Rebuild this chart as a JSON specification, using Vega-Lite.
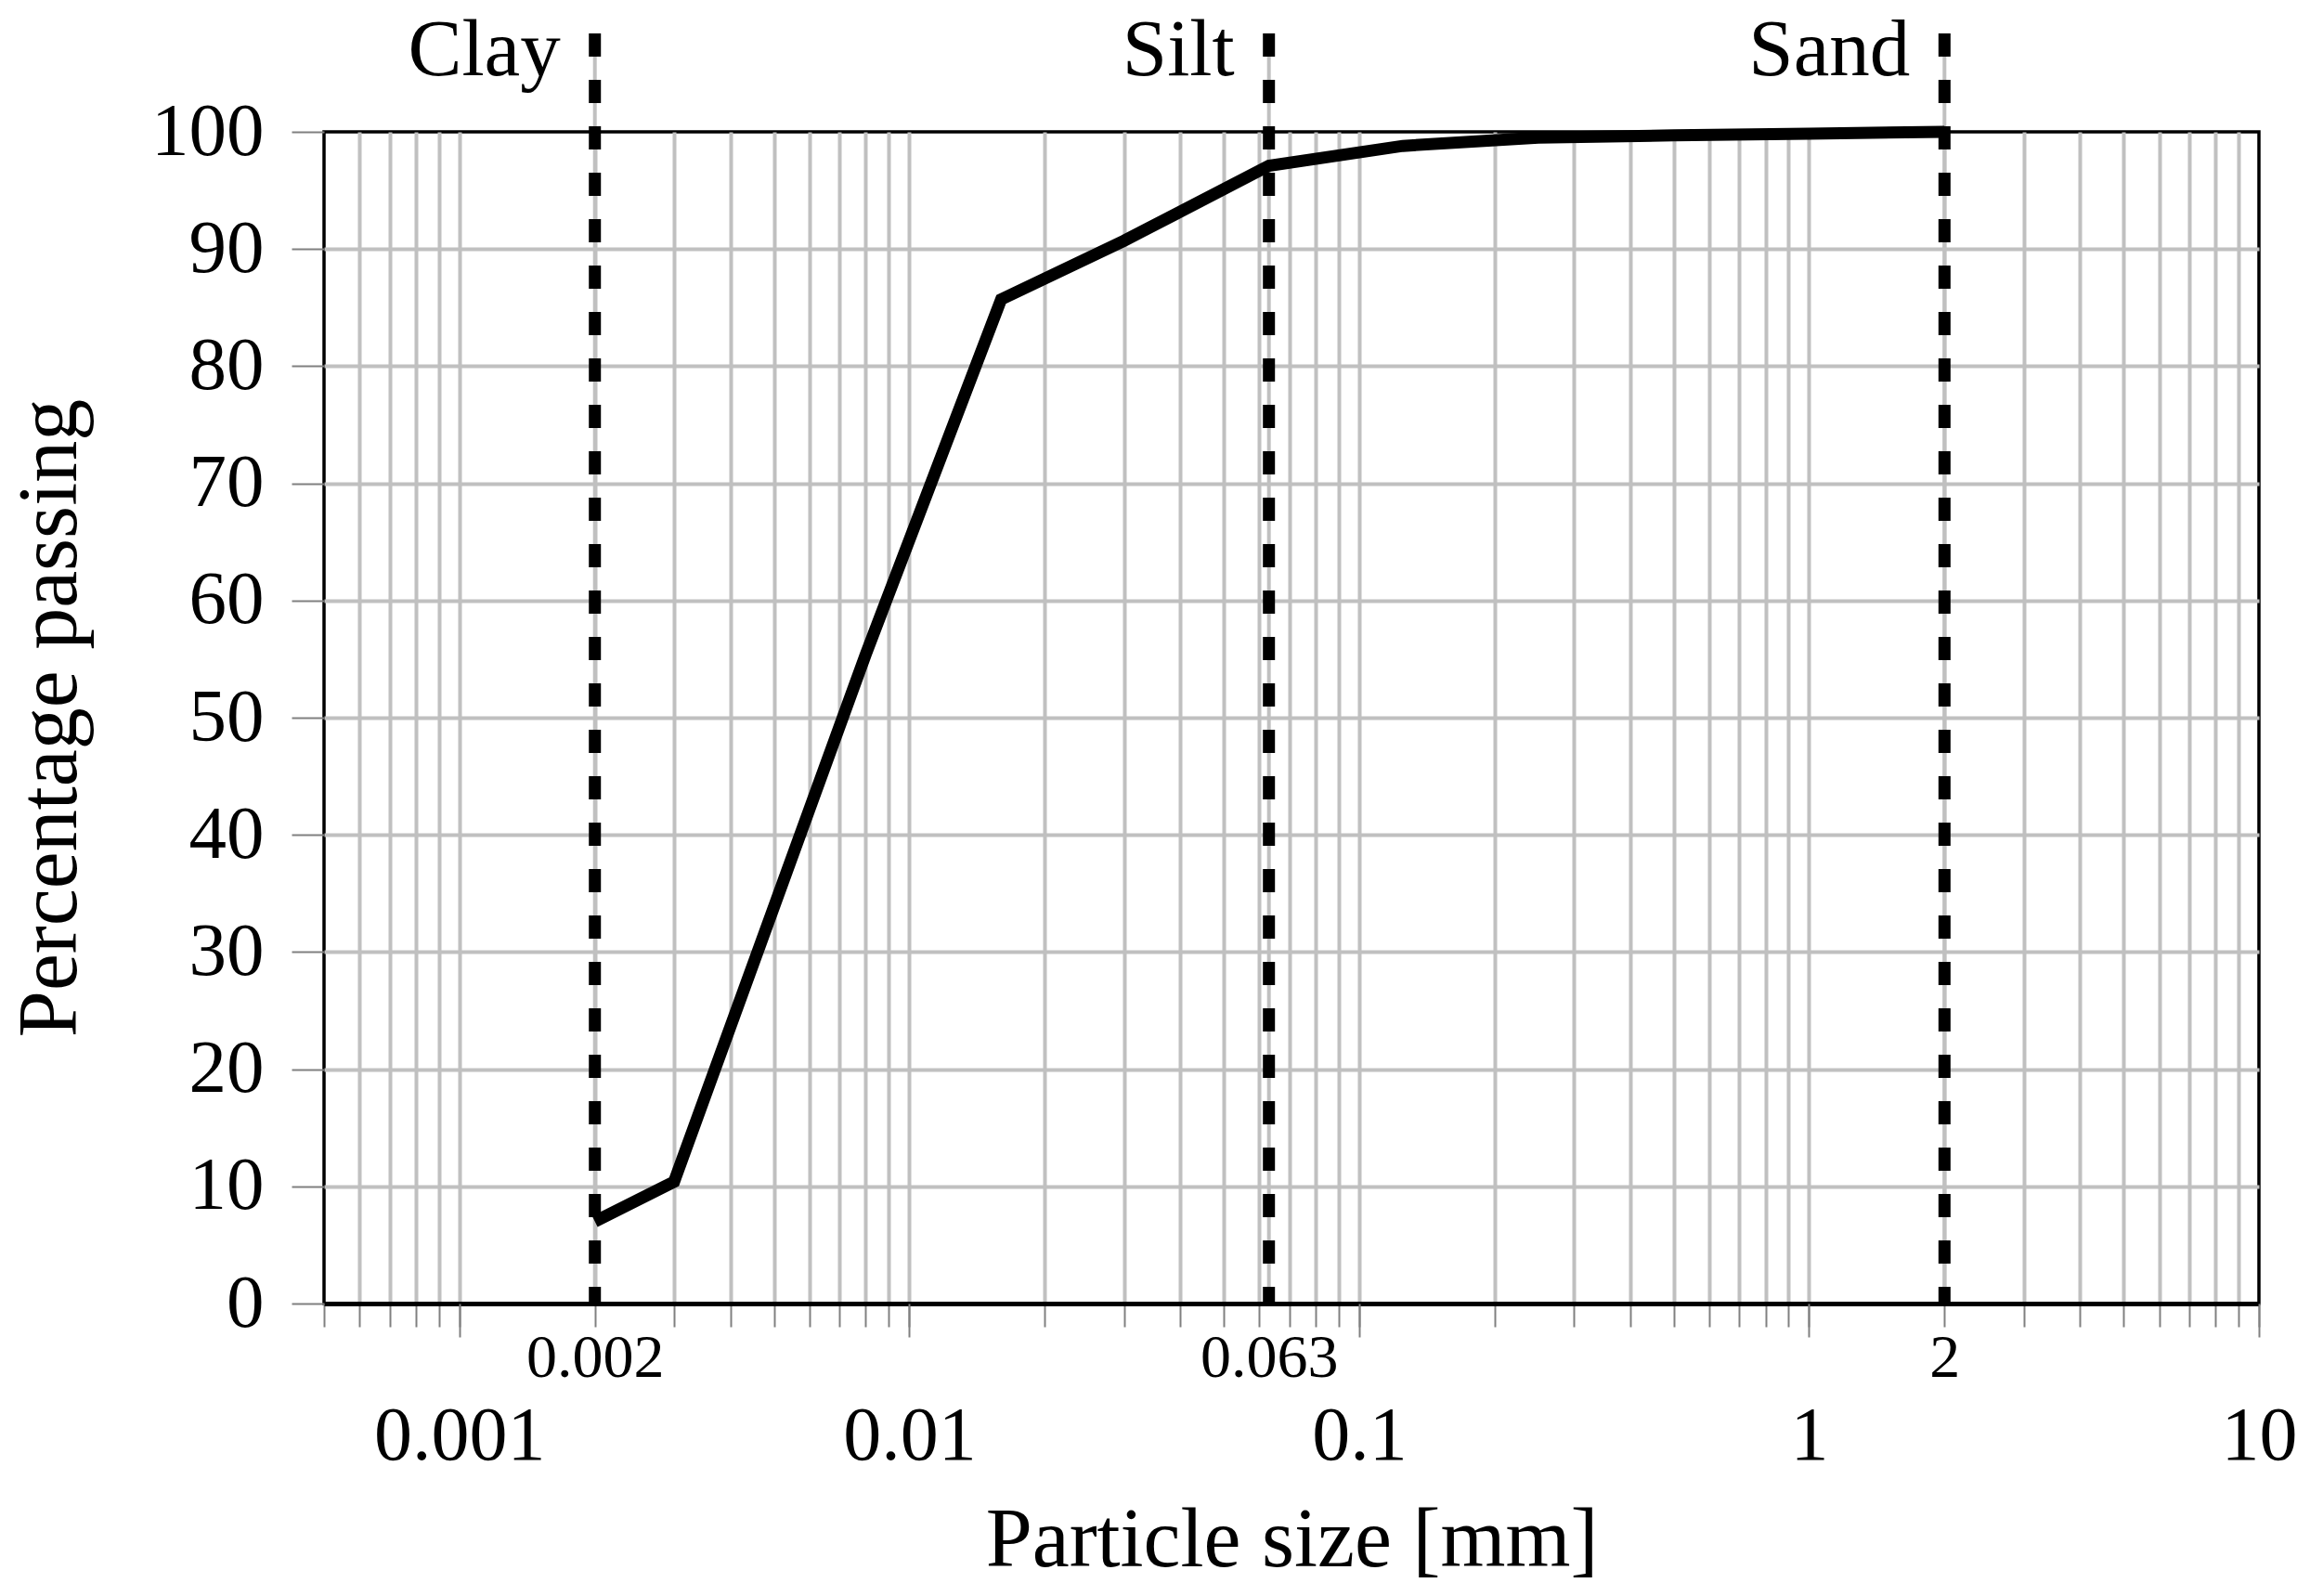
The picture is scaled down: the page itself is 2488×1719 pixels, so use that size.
{
  "$schema": "https://vega.github.io/schema/vega-lite/v6.json",
  "width": 2084,
  "height": 1262,
  "autosize": "none",
  "padding": {"left": 349, "top": 142, "right": 55, "bottom": 315},
  "background": "white",
  "datasets": {
    "curve": [
      {"size": 0.002, "passing": 7.0},
      {"size": 0.003, "passing": 10.4},
      {"size": 0.008, "passing": 55.4},
      {"size": 0.016, "passing": 85.7},
      {"size": 0.03, "passing": 90.7},
      {"size": 0.063, "passing": 97.1},
      {"size": 0.125, "passing": 98.8},
      {"size": 0.25, "passing": 99.5},
      {"size": 0.5, "passing": 99.7},
      {"size": 1, "passing": 99.85},
      {"size": 2, "passing": 100}
    ],
    "bounds": [
      {"size": 0.002, "label": "Clay"},
      {"size": 0.063, "label": "Silt"},
      {"size": 2, "label": "Sand"}
    ]
  },
  "layer": [
    {
      "data": {"name": "bounds"},
      "mark": {"type": "rule", "color": "#c0c0c0", "strokeWidth": 4},
      "encoding": {
        "x": {
          "field": "size", "type": "quantitative",
          "scale": {"type": "log", "domain": [0.0005, 10]},
          "axis": {
            "orient": "bottom",
            "values": [0.0005, 0.0006, 0.0007, 0.0008, 0.0009,
              0.001, 0.002, 0.003, 0.004, 0.005, 0.006, 0.007, 0.008, 0.009,
              0.01, 0.02, 0.03, 0.04, 0.05, 0.06, 0.07, 0.08, 0.09,
              0.1, 0.2, 0.3, 0.4, 0.5, 0.6, 0.7, 0.8, 0.9,
              1, 2, 3, 4, 5, 6, 7, 8, 9, 10],
            "labels": false,
            "title": null,
            "grid": true,
            "gridColor": "#c0c0c0",
            "gridWidth": 4,
            "gridOpacity": {"condition": {"test": "datum.value < 0.00051 || datum.value > 9.9", "value": 0}, "value": 1},
            "tickSize": 25,
            "tickColor": "#808080",
            "tickWidth": 2,
            "domain": true,
            "domainColor": "black",
            "domainWidth": 5
          }
        },
        "y": {"datum": 108.4, "type": "quantitative", "scale": {"domain": [0, 100]}, "axis": null},
        "y2": {"datum": 0}
      }
    },
    {
      "data": {"name": "bounds"},
      "mark": {"type": "rule", "color": "black", "strokeWidth": 13, "strokeDash": [25, 25]},
      "encoding": {
        "x": {
          "field": "size", "type": "quantitative",
          "scale": {"type": "log", "domain": [0.0005, 10]},
          "axis": {
            "orient": "bottom",
            "values": [0.001, 0.01, 0.1, 1, 10],
            "format": "~g",
            "labelFlush": false,
            "labelLimit": 0,
            "labelFontSize": 82,
            "labelColor": "black",
            "labelBaseline": "alphabetic",
            "labelPadding": 131,
            "tickSize": 36,
            "tickColor": "#808080",
            "tickWidth": 2,
            "grid": false,
            "domain": false,
            "title": "Particle size [mm]",
            "titleFontSize": 90,
            "titleFontWeight": "normal",
            "titleColor": "black",
            "titlePadding": 28
          }
        },
        "y": {"datum": 108.4, "type": "quantitative", "scale": {"domain": [0, 100]}, "axis": null},
        "y2": {"datum": 0}
      }
    },
    {
      "data": {"name": "curve"},
      "mark": {"type": "line", "color": "black", "strokeWidth": 13},
      "encoding": {
        "x": {
          "field": "size", "type": "quantitative",
          "scale": {"type": "log", "domain": [0.0005, 10]},
          "axis": {
            "orient": "bottom",
            "values": [0.002, 0.063, 2],
            "format": "~g",
            "labelFlush": false,
            "labelLimit": 0,
            "labelFontSize": 66,
            "labelColor": "black",
            "labelBaseline": "alphabetic",
            "labelPadding": 78,
            "ticks": false,
            "grid": false,
            "domain": false,
            "title": null
          }
        },
        "y": {
          "field": "passing", "type": "quantitative",
          "scale": {"domain": [0, 100]},
          "axis": {
            "orient": "left",
            "values": [0, 10, 20, 30, 40, 50, 60, 70, 80, 90, 100],
            "labelFontSize": 81,
            "labelColor": "black",
            "labelLimit": 0,
            "labelPadding": 30,
            "tickSize": 35,
            "tickColor": "#808080",
            "tickWidth": 2,
            "grid": true,
            "gridColor": "#c0c0c0",
            "gridWidth": 4,
            "gridOpacity": {"condition": {"test": "datum.value <= 0 || datum.value >= 100", "value": 0}, "value": 1},
            "domain": false,
            "title": "Percentage passing",
            "titleFontSize": 90,
            "titleFontWeight": "normal",
            "titleColor": "black",
            "titlePadding": 62
          }
        }
      }
    },
    {
      "data": {"name": "bounds"},
      "mark": {"type": "text", "align": "right", "baseline": "alphabetic", "dx": -37, "fontSize": 87, "color": "black"},
      "encoding": {
        "x": {"field": "size", "type": "quantitative", "scale": {"type": "log", "domain": [0.0005, 10]}, "axis": null},
        "y": {"datum": 104.8, "type": "quantitative", "scale": {"domain": [0, 100]}, "axis": null},
        "text": {"field": "label"}
      }
    }
  ],
  "resolve": {"axis": {"x": "independent", "y": "independent"}},
  "config": {
    "font": "Liberation Serif",
    "view": {"stroke": "black", "strokeWidth": 3.5}
  }
}
